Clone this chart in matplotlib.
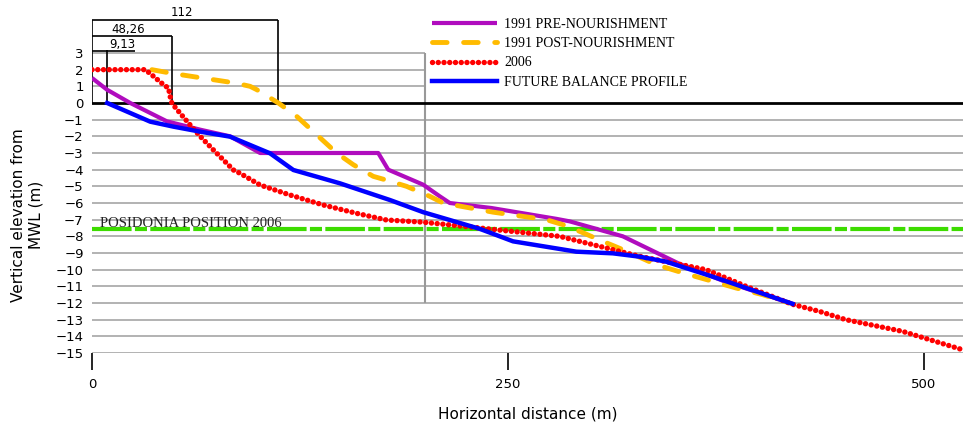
import matplotlib
matplotlib.use("Agg")
import matplotlib.pyplot as plt

# profile data (distance in m, elevation in m from MWL)
pre_x = [0, 9, 23, 45, 65, 83, 101, 172, 178, 199, 209, 215, 240, 279, 287, 319, 353, 380, 421]
pre_y = [1.5, 0.8, 0.0, -1.1, -1.6, -2.0, -3.0, -3.0, -4.0, -4.9, -5.6, -6.0, -6.3, -6.95, -7.1, -8.0, -9.65, -10.7, -12.05]

post_x = [36, 48, 63, 86, 95, 99, 112, 123, 147, 157, 169, 176, 189, 196, 203, 211,
          241, 273, 283, 293, 307, 319, 339, 357, 373, 387, 403, 419]
post_y = [2.0, 1.78, 1.55, 1.2, 1.0, 0.8, 0.0, -0.8, -3.0, -3.7, -4.4, -4.6, -5.0, -5.3, -5.6, -6.0,
          -6.55, -7.0, -7.3, -7.7, -8.3, -8.8, -9.7, -10.25, -10.7, -11.1, -11.5, -12.0]

y2006_x = [0, 32, 36, 42, 46, 47, 48, 53, 59, 65, 73, 85, 89, 101, 119, 139, 159, 177, 199,
           233, 281, 313, 329, 349, 369, 393, 421, 437, 453, 487, 523]
y2006_y = [2, 2, 1.68, 1.18, 0.88, 0.38, -0.02, -0.62, -1.32, -2.0, -2.82, -4.02, -4.22, -4.92,
           -5.52, -6.12, -6.62, -7.02, -7.15, -7.5, -8.0, -8.8, -9.2, -9.6, -10.0, -11.0, -12.08,
           -12.5, -13.0, -13.7, -14.8]

future_x = [9.13, 35, 49, 65, 83, 95, 107, 121, 149, 179, 199, 233, 245, 253, 291, 313, 329, 345, 373, 421]
future_y = [0, -1.12, -1.42, -1.72, -2.02, -2.52, -3.02, -4.02, -4.82, -5.82, -6.55, -7.55, -8.0,
            -8.3, -8.92, -9.02, -9.22, -9.52, -10.42, -12.05]

posidonia_y = -7.55
dims = [112, 48.26, 9.13]
dim_labels = ["112", "48,26", "9,13"]

x_max = 523.4
y_top = 6.18

fig = plt.figure(figsize=(9.63, 4.24), dpi=100)
ax = fig.add_axes([92 / 963, 71 / 424, 871 / 963, 353 / 424])
ax.set_xlim(0, x_max)
ax.set_ylim(-15, y_top)
for s in ax.spines.values():
    s.set_visible(False)

# grid
grid_c = "#a6a6a6"
ax.hlines([1, 2, 3], 0, 200, color=grid_c, lw=1.2, zorder=1)
ax.hlines(list(range(-15, 0)), 0, x_max, color=grid_c, lw=1.2, zorder=1)
ax.vlines(200, -12, 3, color="#999999", lw=1.5, zorder=1)
ax.axhline(0, color="black", lw=2.0, zorder=2)

# dimension lines
ax.vlines(0, 0, 5, color="black", lw=1.2, zorder=2)
ax.hlines(5, 0, dims[0], color="black", lw=1.2)
ax.vlines(dims[0], 0, 5, color="black", lw=1.2)
ax.hlines(4, 0, dims[1], color="black", lw=1.2)
ax.vlines(dims[1], 0, 4, color="black", lw=1.2)
ax.hlines(3.1, 0, 26, color="black", lw=1.2)
ax.vlines(dims[2], 0, 3.2, color="black", lw=1.2)
ax.text(54, 5.05, dim_labels[0], ha="center", va="bottom", fontsize=8.5)
ax.text(22, 4.05, dim_labels[1], ha="center", va="bottom", fontsize=8.5)
ax.text(18, 3.12, dim_labels[2], ha="center", va="bottom", fontsize=8.5)

# posidonia
ax.axhline(posidonia_y, color="#3ddc00", lw=3, dashes=(9.5, 0.8, 2.9, 0.8), zorder=3)
ax.text(5, posidonia_y + 0.12, "POSIDONIA POSITION 2006", family="Liberation Serif",
        fontsize=10.5, ha="left", va="baseline", color="#222222")

# profiles
ax.plot(pre_x, pre_y, color="#b00cbe", lw=3, solid_capstyle="butt",
        label="1991 PRE-NOURISHMENT", zorder=4)
ax.plot(post_x, post_y, color="#ffbb00", lw=3.5, dashes=(3.0, 3.4), dash_capstyle="round",
        label="1991 POST-NOURISHMENT", zorder=5)
ax.plot(y2006_x, y2006_y, color="#ff0000", lw=3.9, dashes=(0.01, 1.05),
        dash_capstyle="round", label="2006", zorder=6)
ax.plot(future_x, future_y, color="#0000ff", lw=3.2, label="FUTURE BALANCE PROFILE", zorder=7)

# ticks
ax.set_yticks(list(range(-15, 4)))
ax.tick_params(axis="y", length=0, pad=6, labelsize=9.5)
ax.set_xticks([0, 250, 500])
ax.tick_params(axis="x", length=12, width=1.2, direction="out", pad=6, labelsize=9.5)
ax.set_xlabel("Horizontal distance (m)", fontsize=11, labelpad=11)
fig.text(27 / 963, 1 - 215 / 424, "Vertical elevation from\nMWL (m)", rotation=90,
         ha="center", va="center", fontsize=11, multialignment="center")

fig.legend(loc="upper left", bbox_to_anchor=(432 / 963, 1 - 18 / 424), frameon=False,
           prop={"family": "Liberation Serif", "size": 10}, handlelength=4.7,
           handletextpad=0.5, labelspacing=0.45, borderpad=0, borderaxespad=0)

fig.savefig("out.png", dpi=100)
